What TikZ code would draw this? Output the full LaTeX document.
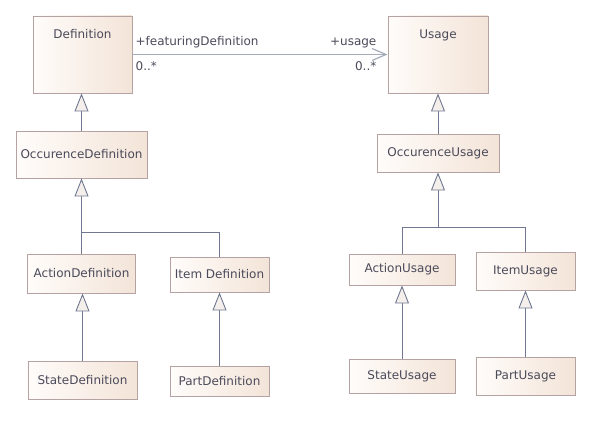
\documentclass[tikz,border=0pt]{standalone}
\usepackage{fontspec}
\setmainfont{DejaVu Sans}
\usetikzlibrary{
    arrows.meta,
    positioning
}
\definecolor{boxline}{HTML}{B5A3A3}
\definecolor{boxleft}{HTML}{FFFCFA}
\definecolor{boxright}{HTML}{F3E4D8}
\definecolor{genline}{HTML}{6F7890}
\definecolor{assocline}{HTML}{A6ABBA}
\definecolor{textgray}{HTML}{4A4A5A}
\definecolor{tipfill}{HTML}{F5EFEC}

\begin{document}
\begin{tikzpicture}[x=1pt, y=-1pt,
    every node/.style={font=\fontsize{12}{14}\selectfont, text=textgray},
    classbox/.style={draw=boxline, line width=0.9pt, left color=boxleft, right color=boxright,
                     shading angle=90, inner sep=0pt},
    bigbox/.style={classbox, text height=23pt, text depth=54pt},
    gen/.style={draw=genline, line width=0.9pt,
                -{Triangle[length=18pt, width=14pt, fill=tipfill]}},
    branch/.style={draw=genline, line width=0.9pt},
    assoc/.style={draw=assocline, line width=1.4pt,
                  -{Straight Barb[length=14pt, width=12pt, line width=1.2pt]}},
    rolelabel/.style={inner sep=1pt}
]
    \useasboundingbox (0,0) rectangle (592,428);

    % top row
    \node[bigbox, minimum width=99pt] (def) at (82.5,54.5) {Definition};
    \node[bigbox, minimum width=100pt] (usage) at (438,54.5) {Usage};

    % occurrence level
    \node[classbox, minimum width=131pt, minimum height=47pt] (occdef) at (81.5,154.5) {OccurenceDefinition};
    \node[classbox, minimum width=122pt, minimum height=38pt] (occuse) at (438,153) {OccurenceUsage};

    % definitions
    \node[classbox, minimum width=108pt, minimum height=39pt] (actdef) at (81.5,273.5) {ActionDefinition};
    \node[classbox, minimum width=99pt, minimum height=35pt] (itemdef) at (219.5,274.5) {Item Definition};
    \node[classbox, minimum width=109pt, minimum height=38pt] (statedef) at (82.5,380) {StateDefinition};
    \node[classbox, minimum width=99pt, minimum height=30pt] (partdef) at (219.5,381) {PartDefinition};

    % usages
    \node[classbox, minimum width=106pt, minimum height=31pt] (actuse) at (402,269.5) {ActionUsage};
    \node[classbox, minimum width=99pt, minimum height=38pt] (itemuse) at (525.5,271) {ItemUsage};
    \node[classbox, minimum width=106pt, minimum height=34pt] (stateuse) at (402,376) {StateUsage};
    \node[classbox, minimum width=99pt, minimum height=38pt] (partuse) at (525.5,376) {PartUsage};

    % association
    \draw[assoc] (def.east) -- (def.east -| usage.west);
    \node[rolelabel, anchor=south west] (featrole) at ([shift={(2,-5)}]def.east) {+featuringDefinition};
    \node[rolelabel, anchor=north west] (featmult) at ([shift={(2,6)}]def.east) {0..*};
    \node[rolelabel, anchor=south east] (userole) at ([shift={(-10,-5)}]def.east -| usage.west) {+usage};
    \node[rolelabel, anchor=north east] (usemult) at ([shift={(-10,6)}]def.east -| usage.west) {0..*};

    % generalizations
    \draw[gen] (occdef.north) -- (occdef.north |- def.south);
    \draw[gen] (occuse.north) -- (occuse.north |- usage.south);

    \coordinate (defsplit) at (occdef.south |- 0,232);
    \draw[gen] (actdef.north) -- (defsplit) -- (occdef.south);
    \draw[branch] (itemdef.north) |- (defsplit);

    \coordinate (usesplit) at (occuse.south |- 0,227);
    \draw[gen] (usesplit) -- (occuse.south);
    \draw[branch] (actuse.north) |- (usesplit);
    \draw[branch] (itemuse.north) |- (usesplit);

    \draw[gen] (statedef.north) -- (statedef.north |- actdef.south);
    \draw[gen] (partdef.north) -- (itemdef.south);
    \draw[gen] (stateuse.north) -- (actuse.south);
    \draw[gen] (partuse.north) -- (itemuse.south);
\end{tikzpicture}
\end{document}
